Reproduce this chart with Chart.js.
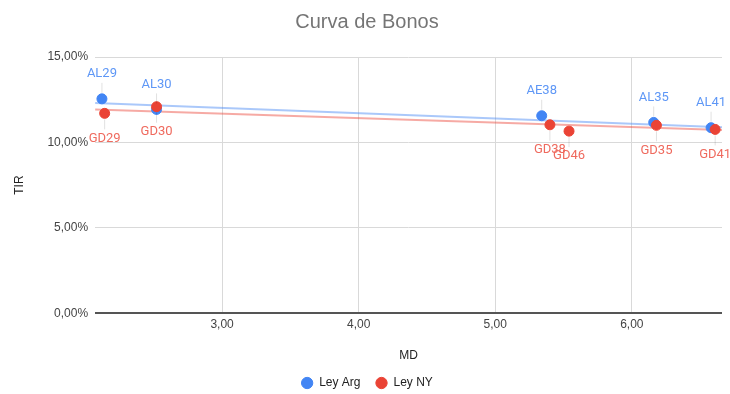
<!DOCTYPE html>
<html>
<head>
  <title>Curva de Bonos</title>
  <script src="https://cdn.jsdelivr.net/npm/chart.js"></script>
  <style>
    body { margin: 0; background: #fff; }
    #wrap { width: 730px; height: 394px; }
  </style>
</head>
<body>
  <div id="wrap"><canvas id="chart"></canvas></div>
  <script>
    // Ley Arg
    var argLabels = ['AL29', 'AL30', 'AE38', 'AL35', 'AL41'];
    var argMD = [2.12, 2.52, 5.34, 6.16, 6.58];
    var argTIR = [12.55, 11.93, 11.56, 11.17, 10.86];

    // Ley NY
    var nyLabels = ['GD29', 'GD30', 'GD38', 'GD46', 'GD35', 'GD41'];
    var nyMD = [2.14, 2.52, 5.40, 5.54, 6.18, 6.61];
    var nyTIR = [11.70, 12.09, 11.03, 10.66, 11.00, 10.76];

    // lineas de tendencia (extremos)
    var trendMD = [2.07, 6.66];
    var argTrend = [12.30, 10.88];
    var nyTrend = [11.93, 10.72];

    var yTicks = [0, 5, 10, 15];
    var xTicks = [3, 4, 5, 6];

    function pts(xs, ys) {
      return xs.map(function (x, i) { return { x: x, y: ys[i] }; });
    }

    var pointLabels = {
      id: 'pointLabels',
      afterDatasetsDraw: function (chart) {
        var ctx = chart.ctx;
        chart.data.datasets.forEach(function (ds, di) {
          if (!ds.tags) return;
          var meta = chart.getDatasetMeta(di);
          meta.data.forEach(function (el, i) {
            var dir = ds.tagPos === 'above' ? -1 : 1;
            ctx.save();
            ctx.strokeStyle = 'rgba(0,0,0,0.12)';
            ctx.lineWidth = 1;
            ctx.beginPath();
            ctx.moveTo(el.x, el.y + dir * 6);
            ctx.lineTo(el.x, el.y + dir * 16);
            ctx.stroke();
            ctx.font = '13px Roboto';
            ctx.fillStyle = ds.tagColor;
            ctx.textAlign = 'center';
            ctx.textBaseline = 'middle';
            ctx.fillText(ds.tags[i], el.x, el.y + dir * 25);
            ctx.restore();
          });
        });
      }
    };

    var fmt = function (v) { return v.toFixed(2).replace('.', ','); };

    new Chart(document.getElementById('chart'), {
      type: 'scatter',
      data: {
        datasets: [{
          label: 'Ley Arg',
          data: pts(argMD, argTIR),
          tags: argLabels,
          tagPos: 'above',
          tagColor: '#5e97f6',
          backgroundColor: '#4285f4',
          borderColor: '#4285f4',
          pointRadius: 5,
          order: 2
        }, {
          label: 'Ley NY',
          data: pts(nyMD, nyTIR),
          tags: nyLabels,
          tagPos: 'below',
          tagColor: '#ef6a5e',
          backgroundColor: '#ea4335',
          borderColor: '#ea4335',
          pointRadius: 5,
          order: 1
        }, {
          label: 'trend arg',
          data: pts(trendMD, argTrend),
          showLine: true,
          pointRadius: 0,
          borderColor: 'rgba(66,133,244,0.45)',
          borderWidth: 2,
          order: 4
        }, {
          label: 'trend ny',
          data: pts(trendMD, nyTrend),
          showLine: true,
          pointRadius: 0,
          borderColor: 'rgba(234,67,53,0.45)',
          borderWidth: 2,
          order: 3
        }]
      },
      options: {
        responsive: true,
        maintainAspectRatio: false,
        animation: false,
        layout: { padding: { left: 12, right: 8, top: 0, bottom: -5 } },
        plugins: {
          title: {
            display: true,
            text: 'Curva de Bonos',
            color: '#757575',
            font: { family: 'Arial', size: 20, weight: 'normal' },
            padding: { top: 10, bottom: 23 }
          },
          legend: {
            position: 'bottom',
            labels: {
              usePointStyle: true,
              pointStyle: 'circle',
              boxWidth: 12,
              boxHeight: 8,
              padding: 15,
              color: '#222',
              font: { family: 'Arial', size: 12 },
              filter: function (item) { return item.datasetIndex < 2; },
              sort: function (a, b) { return a.datasetIndex - b.datasetIndex; }
            }
          },
          tooltip: { enabled: false }
        },
        scales: {
          x: {
            type: 'linear',
            min: trendMD[0],
            max: trendMD[1],
            afterBuildTicks: function (s) { s.ticks = xTicks.map(function (v) { return { value: v }; }); },
            ticks: {
              color: '#444',
              font: { family: 'Arial', size: 12 },
              padding: 4,
              callback: function (v) { return fmt(v); }
            },
            grid: { color: '#d9d9d9', drawTicks: false },
            border: { display: false },
            title: {
              display: true,
              text: 'MD',
              color: '#222',
              font: { family: 'Arial', size: 12 },
              padding: { top: 13, bottom: -1 }
            }
          },
          y: {
            min: yTicks[0],
            max: yTicks[yTicks.length - 1],
            afterBuildTicks: function (s) { s.ticks = yTicks.map(function (v) { return { value: v }; }); },
            ticks: {
              color: '#444',
              font: { family: 'Arial', size: 12 },
              padding: 7,
              callback: function (v) { return fmt(v) + '%'; }
            },
            grid: {
              drawTicks: false,
              color: function (c) { return c.tick && c.tick.value === 0 ? '#555' : '#d9d9d9'; },
              lineWidth: function (c) { return c.tick && c.tick.value === 0 ? 2 : 1; }
            },
            border: { display: false },
            title: {
              display: true,
              text: 'TIR',
              color: '#222',
              font: { family: 'Arial', size: 12 },
              padding: { top: 0, bottom: 14 }
            }
          }
        }
      },
      plugins: [pointLabels]
    });
  </script>
</body>
</html>
